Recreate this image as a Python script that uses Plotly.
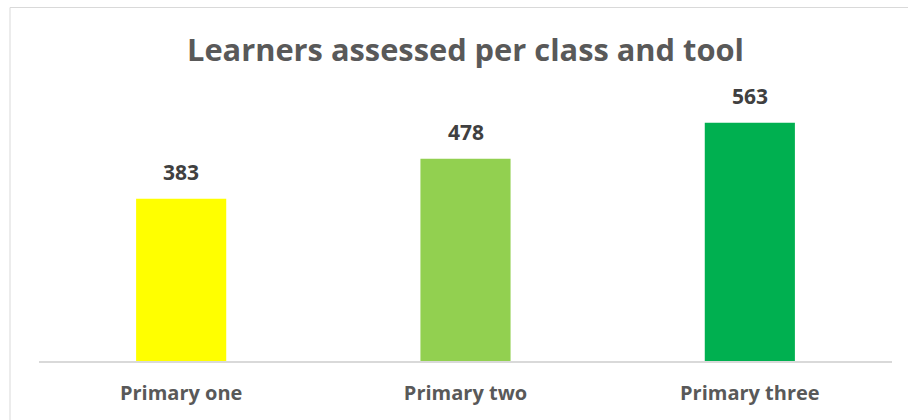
import plotly.graph_objects as go

categories = ["Primary one", "Primary two", "Primary three"]
values = [383, 478, 563]
colors = ["#FFFF00", "#92D050", "#00B050"]
title_text = "Learners assessed per class and tool"

W, H = 908, 420
L, R, T, B = 39, 16, 107, 59
pw, ph = W - L - R, H - T - B

fig = go.Figure()
fig.add_trace(go.Bar(
    x=categories, y=values, marker=dict(color=colors, line=dict(width=0)),
    width=0.317, hoverinfo="skip",
))

for c, v in zip(categories, values):
    fig.add_annotation(
        x=c, y=v, xref="x", yref="y", text=f"<b>{v}</b>", showarrow=False,
        yanchor="middle", yshift=27,
        font=dict(family="Open Sans", size=21, color="#404040"),
    )

# outer chart border
fig.add_shape(
    type="rect", xref="paper", yref="paper",
    x0=(10 - L) / pw, x1=(W + 20 - L) / pw,
    y0=-(H + 20 - (H - B)) / ph, y1=((H - B) - 7.5) / ph,
    line=dict(color="#D9D9D9", width=1), fillcolor="rgba(0,0,0,0)", layer="below",
)

fig.update_layout(
    width=W, height=H,
    margin=dict(l=L, r=R, t=T, b=B),
    paper_bgcolor="white", plot_bgcolor="white",
    showlegend=False,
    title=dict(
        text=f"<b>{title_text}</b>", x=0.5, xref="paper", xanchor="center",
        y=1 - 50 / H, yref="container", yanchor="middle",
        font=dict(family="Open Sans", size=30.8, color="#595959"),
    ),
    xaxis=dict(
        showline=True, linecolor="#D9D9D9", linewidth=2, showgrid=False,
        ticks="", ticklabelstandoff=13, zeroline=False, automargin=False,
        tickfont=dict(family="Open Sans", size=20, color="#595959", weight="bold"),
    ),
    yaxis=dict(range=[0, 600], visible=False, showgrid=False, zeroline=False,
               automargin=False),
)

fig.write_html("out.html")
